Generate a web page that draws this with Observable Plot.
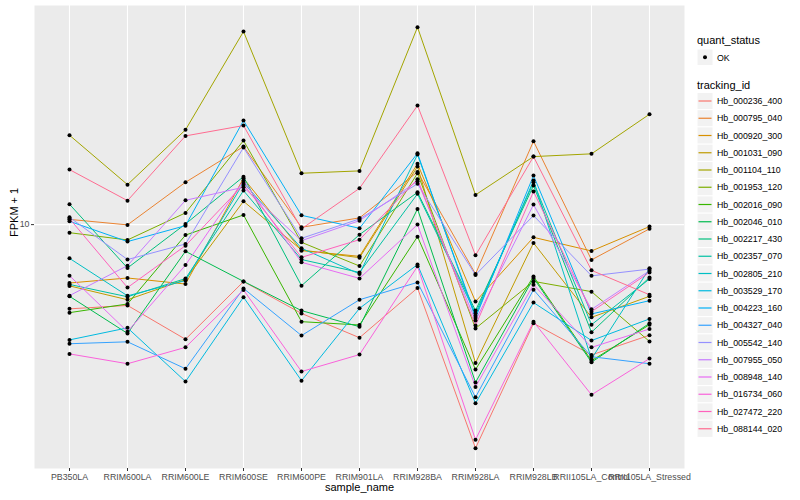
<!DOCTYPE html>
<html><head><meta charset="utf-8">
<script src="https://cdn.jsdelivr.net/npm/d3@7"></script>
<script src="https://cdn.jsdelivr.net/npm/@observablehq/plot@0.6"></script>
<style>
body{margin:0;background:#fff;font-family:"Liberation Sans",Arial,sans-serif;}
#wrap{position:relative;width:800px;height:500px;overflow:hidden;}
#legend{position:absolute;left:690px;top:0;}
</style></head><body><div id="wrap"><div id="chart"></div><div id="legend"></div></div>
<script>
const samples = ["PB350LA","RRIM600LA","RRIM600LE","RRIM600SE","RRIM600PE","RRIM901LA","RRIM928BA","RRIM928LA","RRIM928LB","RRII105LA_Control","RRII105LA_Stressed"];
const trackingIds = ["Hb_000236_400","Hb_000795_040","Hb_000920_300","Hb_001031_090","Hb_001104_110","Hb_001953_120","Hb_002016_090","Hb_002046_010","Hb_002217_430","Hb_002357_070","Hb_002805_210","Hb_003529_170","Hb_004223_160","Hb_004327_040","Hb_005542_140","Hb_007955_050","Hb_008948_140","Hb_016734_060","Hb_027472_220","Hb_088144_020"];
const palette = ["#F8766D","#EA8331","#D89000","#C09B00","#A3A500","#7CAE00","#39B600","#00BB4E","#00BF7D","#00C1A3","#00BFC4","#00BAE0","#00B0F6","#35A2FF","#9590FF","#C77CFF","#E76BF3","#FA62DB","#FF62BC","#FF6C91"];
const quantStatus = ["OK"];

// FPKM + 1, one array per tracking_id, in sample order
const hb000236_400 = [5.24,5.38,4.15,6.46,5.06,4.20,6.15,1.80,4.69,3.68,4.28];
const hb000795_040 = [10.41,9.98,13.84,18.20,9.80,10.53,14.98,6.85,18.96,7.63,9.68];
const hb000920_300 = [6.39,6.64,6.34,14.27,8.19,7.84,15.94,5.54,9.07,8.17,9.85];
const hb001031_090 = [6.25,5.62,6.56,11.96,8.23,7.76,15.61,3.46,8.69,4.91,5.77];
const hb001104_110 = [19.85,13.59,20.69,43.98,14.83,15.10,45.46,12.56,16.85,17.21,23.32];
const hb001953_120 = [9.40,8.89,10.94,19.05,8.73,7.28,14.83,4.51,6.47,5.98,4.08];
const hb002016_090 = [5.09,5.44,9.23,10.77,4.75,4.63,9.12,3.29,6.72,3.52,4.64];
const hb002046_010 = [5.77,4.34,8.15,6.47,5.17,4.57,11.28,2.98,6.64,3.48,4.69];
const hb002217_430 = [11.69,7.17,10.05,14.45,6.26,9.26,12.81,5.17,13.49,4.38,6.67];
const hb002357_070 = [6.32,5.75,6.61,12.98,7.65,6.93,12.66,5.06,13.84,4.64,6.59];
const hb002805_210 = [7.72,5.79,6.51,13.80,8.34,6.85,17.11,4.97,14.02,3.57,7.15];
const hb003529_170 = [4.13,4.53,3.00,5.73,3.02,5.26,7.36,2.54,5.50,4.11,4.85];
const hb004223_160 = [10.26,8.78,9.92,22.22,10.74,9.72,17.28,4.89,14.57,5.04,5.58];
const hb004327_040 = [4.01,4.07,3.31,6.13,4.27,5.62,6.42,2.66,6.07,3.63,3.44];
const hb005542_140 = [10.58,7.65,8.62,18.06,9.00,10.45,13.67,6.80,10.72,6.75,7.11];
const hb007955_050 = [5.80,7.30,12.05,13.32,8.84,10.31,13.95,4.79,11.66,5.22,7.02];
const hb008948_140 = [6.76,4.40,7.33,14.02,7.49,6.62,10.00,2.88,6.31,3.90,4.49];
const hb016734_060 = [3.71,3.44,3.90,6.06,3.24,3.69,7.26,1.92,4.75,2.71,3.58];
const hb027472_220 = [10.47,6.17,8.51,13.59,7.78,8.91,14.16,4.61,12.88,5.13,6.93];
const hb088144_020 = [15.25,12.02,19.75,21.38,9.68,13.21,24.93,7.90,16.85,7.04,5.84];

const seriesValues = [hb000236_400,hb000795_040,hb000920_300,hb001031_090,hb001104_110,hb001953_120,hb002016_090,hb002046_010,hb002217_430,hb002357_070,hb002805_210,hb003529_170,hb004223_160,hb004327_040,hb005542_140,hb007955_050,hb008948_140,hb016734_060,hb027472_220,hb088144_020];

const data = [];
trackingIds.forEach((id, i) => seriesValues[i].forEach((v, j) => data.push({tracking_id: id, sample_name: samples[j], value: v, quant_status: "OK"})));

const font = "Liberation Sans, Arial, Helvetica, sans-serif";
const chart = Plot.plot({
  width: 800, height: 500,
  marginLeft: 34, marginRight: 116, marginTop: 5, marginBottom: 32,
  style: {fontFamily: font, background: "transparent"},
  x: {type: "point", domain: samples, padding: 0.6},
  y: {type: "log", domain: [1.54, 53.7]},
  color: {domain: trackingIds, range: palette},
  marks: [
    Plot.frame({fill: "#EBEBEB", stroke: null}),
    Plot.gridX(samples, {stroke: "white", strokeOpacity: 1, strokeWidth: 1.1}),
    Plot.gridY([10], {stroke: "white", strokeOpacity: 1, strokeWidth: 1.1}),
    Plot.line(data, {x: "sample_name", y: "value", z: "tracking_id", stroke: "tracking_id", strokeWidth: 1}),
    Plot.dot(data, {x: "sample_name", y: "value", r: 2, fill: "black", stroke: null}),
    Plot.axisX({tickSize: 3, tickPadding: 2, fontSize: 8.8, fill: "#4D4D4D", stroke: "#333", label: null}),
    Plot.axisY([10], {tickSize: 3, tickPadding: 2, fontSize: 8.8, fill: "#4D4D4D", stroke: "#333", tickFormat: d => String(d), label: null}),
    Plot.text(["sample_name"], {frameAnchor: "bottom", dy: 22.5, fontSize: 11, fill: "black"}),
    Plot.text(["FPKM + 1"], {frameAnchor: "left", dx: -20, rotate: -90, fontSize: 11, fill: "black"})
  ]
});
document.getElementById("chart").appendChild(chart);

// legend
const lg = d3.select("#legend").append("svg").attr("width", 110).attr("height", 500)
  .style("font-family", font);
lg.append("text").attr("x", 7).attr("y", 44).attr("font-size", 11).text("quant_status");
quantStatus.forEach((q, i) => {
  const g = lg.append("g").attr("transform", `translate(7,${49 + i * 17})`);
  g.append("rect").attr("width", 16).attr("height", 16.5).attr("fill", "#F2F2F2").attr("stroke", "white");
  g.append("circle").attr("cx", 8).attr("cy", 8.25).attr("r", 2).attr("fill", "black");
  g.append("text").attr("x", 20).attr("y", 11.5).attr("font-size", 8.8).text(q);
});
lg.append("text").attr("x", 7).attr("y", 89).attr("font-size", 11).text("tracking_id");
trackingIds.forEach((id, i) => {
  const g = lg.append("g").attr("transform", `translate(7,${92.4 + i * 17.25})`);
  g.append("rect").attr("width", 16).attr("height", 17.25).attr("fill", "#F2F2F2").attr("stroke", "white");
  g.append("line").attr("x1", 1.5).attr("x2", 14.5).attr("y1", 8.6).attr("y2", 8.6).attr("stroke", palette[i]).attr("stroke-width", 1.2);
  g.append("text").attr("x", 20).attr("y", 11.8).attr("font-size", 8.8).text(id);
});
</script></body></html>
